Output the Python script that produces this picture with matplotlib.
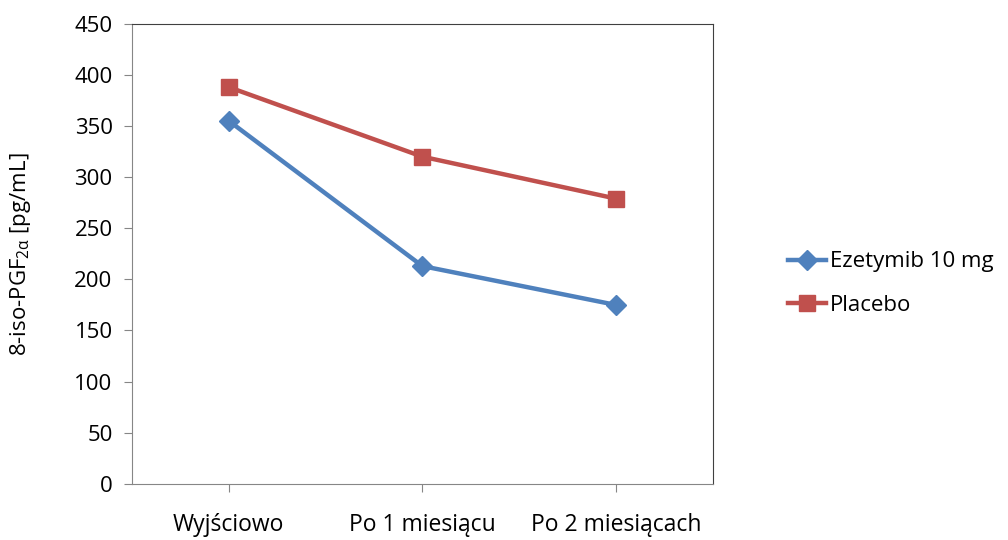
import matplotlib.pyplot as plt

categories = ['Wyjściowo', 'Po 1 miesiącu', 'Po 2 miesiącach']
ezetymib = [355, 213, 175]
placebo = [388, 320, 279]
yticks = [0, 50, 100, 150, 200, 250, 300, 350, 400, 450]

plt.rcParams['font.family'] = ['Open Sans', 'DejaVu Sans']
plt.rcParams['mathtext.fontset'] = 'custom'
plt.rcParams['mathtext.rm'] = 'Open Sans'
plt.rcParams['mathtext.it'] = 'Open Sans:italic'

fig = plt.figure(figsize=(10.08, 5.4), dpi=100)
ax = fig.add_axes([0.131, 0.104, 0.576, 0.852])

x = range(len(categories))
ax.plot(x, ezetymib, color='#4F81BD', lw=3.2, marker='D', ms=10,
        label='Ezetymib 10 mg')
ax.plot(x, placebo, color='#C0504D', lw=3.2, marker='s', ms=12,
        label='Placebo')

ax.set_xlim(-0.5, 2.5)
ax.set_ylim(0, 450)
ax.set_yticks(yticks)
ax.set_xticks(list(x))
ax.set_xticklabels(categories, fontsize=16.5)
ax.tick_params(axis='y', labelsize=16, length=6, color='#868686', pad=8)
ax.tick_params(axis='x', length=6, color='#868686', pad=15)

for s in ['left', 'bottom']:
    ax.spines[s].set_color('#868686')
for s in ['top', 'right']:
    ax.spines[s].set_color('#404040')

ax.set_ylabel(r'8-iso-PGF$_{2\mathrm{α}}$ [pg/mL]', fontsize=16, labelpad=30)

fig.legend(loc='center left', bbox_to_anchor=(0.762, 0.475), frameon=False,
           fontsize=16, handlelength=1.7, labelspacing=1.0, handletextpad=0.2)

fig.savefig('out.png', dpi=100)
